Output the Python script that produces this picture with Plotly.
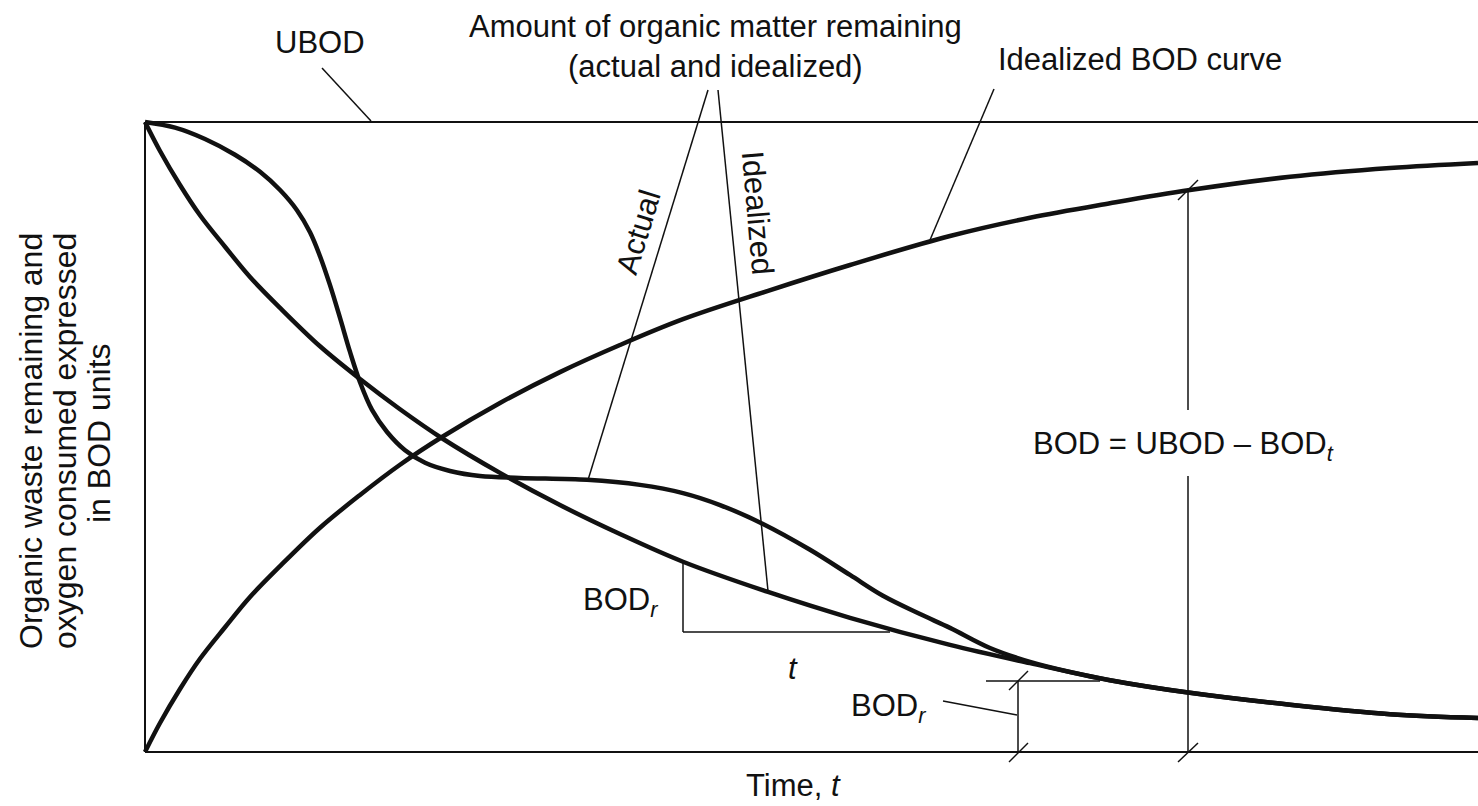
import plotly.graph_objects as go

# ---------------- data (time in arbitrary units, values in fractions of UBOD) ----------------
bod_time = [0, 0.1125, 0.2626, 0.4126, 0.6002, 0.7877, 1.0128, 1.3128, 1.6129, 1.913, 2.228,
            2.663, 3.113, 3.563, 4.036, 4.674, 5.289, 6.039, 6.639, 7.239, 7.839, 8.590, 9.340, 10.0]
bod_value = [0, 0.046, 0.100, 0.148, 0.198, 0.246, 0.295, 0.356, 0.408, 0.456, 0.500,
             0.554, 0.603, 0.646, 0.687, 0.732, 0.773, 0.819, 0.848, 0.871, 0.892, 0.913, 0.927, 0.935]

ideal_time = [0, 0.1125, 0.2626, 0.4126, 0.6002, 0.7877, 1.0128, 1.3128, 1.6129, 1.913, 2.228,
              2.663, 3.113, 3.563, 4.036, 4.674, 5.289, 6.039, 6.639, 7.239, 7.839, 8.590, 9.340, 10.0]
ideal_remaining = [1.0, 0.954, 0.900, 0.852, 0.802, 0.754, 0.705, 0.644, 0.592, 0.544, 0.498,
                   0.443, 0.392, 0.346, 0.302, 0.254, 0.213, 0.170, 0.141, 0.114, 0.094, 0.075, 0.060, 0.054]

actual_time = [0, 0.225, 0.450, 0.675, 0.863, 1.013, 1.140, 1.238, 1.313, 1.388, 1.463, 1.538,
               1.613, 1.703, 1.816, 1.951, 2.101, 2.288, 2.513, 2.813, 3.316, 3.713, 4.036, 4.314,
               4.636, 4.989, 5.289, 5.536, 5.814, 6.039, 6.339, 6.639, 6.939, 7.239, 7.839, 8.590,
               9.340, 10.0]
actual_remaining = [1.0, 0.991, 0.973, 0.948, 0.921, 0.892, 0.860, 0.825, 0.787, 0.741, 0.689, 0.635,
                    0.587, 0.543, 0.508, 0.479, 0.459, 0.446, 0.438, 0.435, 0.432, 0.424, 0.411, 0.392,
                    0.362, 0.321, 0.281, 0.248, 0.219, 0.197, 0.165, 0.143, 0.127, 0.114, 0.094, 0.075,
                    0.060, 0.054]

ubod_time = [0, 10.0]
ubod_level = [1.0, 1.0]

# ---------------- layout geometry ----------------
W, H = 1478, 806
PL, PT, PW, PH = 140, 116, 1338, 642
X_RANGE = [-0.0375, 10.0]
Y_RANGE = [-0.00952, 1.00952]


def px(x):
    return (x - PL) / PW


def py(y):
    return (PT + PH - y) / PH


FONT = "Liberation Sans, Arial, Helvetica, sans-serif"
BLACK = "#111111"

fig = go.Figure()

for t, v in [(bod_time, bod_value), (ideal_time, ideal_remaining), (actual_time, actual_remaining)]:
    fig.add_trace(go.Scatter(x=t, y=v, mode="lines",
                             line=dict(color=BLACK, width=4.5, shape="spline", smoothing=1.0),
                             hoverinfo="skip", showlegend=False))

fig.add_trace(go.Scatter(x=ubod_time, y=ubod_level, mode="lines",
                         line=dict(color=BLACK, width=2), hoverinfo="skip", showlegend=False))

shapes = []


def seg(x0, y0, x1, y1, w=1.5):
    shapes.append(dict(type="line", xref="paper", yref="paper",
                       x0=px(x0), y0=py(y0), x1=px(x1), y1=py(y1),
                       line=dict(color=BLACK, width=w)))


# frame
seg(145, 122, 145, 752, 2)
seg(145, 752, 1478, 752, 2)
# leaders
seg(322, 68, 371, 121)
seg(708, 90, 588, 480)
seg(718, 90, 768, 591)
seg(994, 89, 930, 240)
# BOD_r triangle
seg(683, 562, 683, 632)
seg(683, 632, 890, 632)
# bracket BOD_r
seg(986, 681, 1100, 681)
seg(1018, 681, 1018, 752)
seg(1009, 690, 1028, 671)
seg(1009, 762, 1028, 743)
seg(943, 701, 1017, 715)
# BOD vertical
seg(1188, 190, 1188, 410)
seg(1188, 476, 1188, 752)
seg(1178, 200, 1198, 180)
seg(1178, 762, 1198, 743)

annotations = []


def txt(s, x, y, size=31, angle=0):
    annotations.append(dict(text=s, x=px(x), y=py(y), xref="paper", yref="paper",
                            xanchor="center", yanchor="middle", showarrow=False,
                            textangle=angle, font=dict(family=FONT, size=size, color=BLACK)))


txt("UBOD", 320, 42)
txt("Amount of organic matter remaining", 715, 26)
txt("(actual and idealized)", 715, 66)
txt("Idealized BOD curve", 1140, 60)
txt("Actual", 638, 232, angle=-73)
txt("Idealized", 757, 213, angle=85)
txt("BOD<sub><i>r</i></sub>", 620, 602)
txt("<i>t</i>", 793, 668)
txt("BOD<sub><i>r</i></sub>", 888, 708)
txt("BOD = UBOD \u2013 BOD<sub><i>t</i></sub>", 1183, 446)
txt("Time, <i>t</i>", 793, 785)
txt("Organic waste remaining and", 31, 441, size=32, angle=-90)
txt("oxygen consumed expressed", 65, 441, size=32, angle=-90)
txt("in BOD units", 99, 433, size=32, angle=-90)

fig.update_layout(
    width=W, height=H,
    margin=dict(l=PL, r=W - PL - PW, t=PT, b=H - PT - PH, pad=0),
    paper_bgcolor="white", plot_bgcolor="white",
    xaxis=dict(range=X_RANGE, visible=False, fixedrange=True),
    yaxis=dict(range=Y_RANGE, visible=False, fixedrange=True),
    shapes=shapes, annotations=annotations,
    font=dict(family=FONT, color=BLACK),
)

fig.write_html("out.html", config={"displayModeBar": False},
               post_script="document.body.style.margin='0';document.body.style.overflow='hidden';")
